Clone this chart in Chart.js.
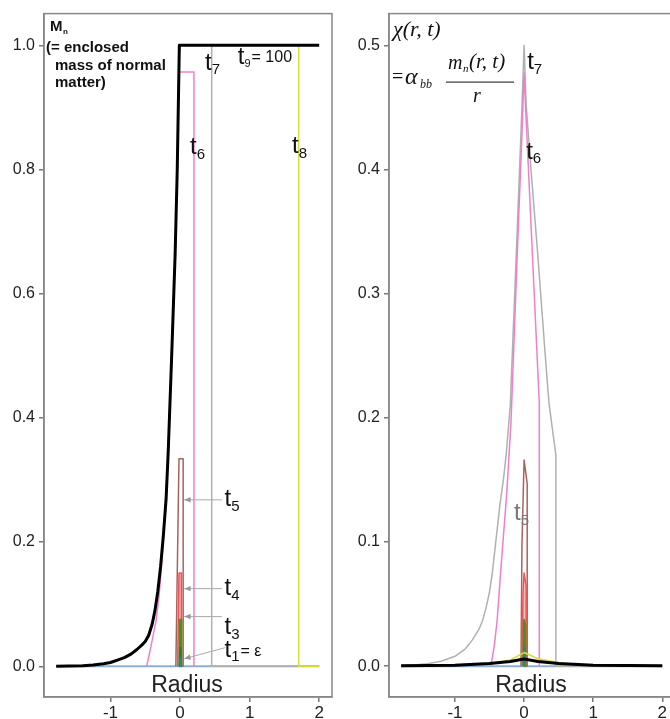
<!DOCTYPE html>
<html>
<head>
<meta charset="utf-8">
<script src="https://cdn.jsdelivr.net/npm/chart.js@4.4.0/dist/chart.umd.min.js"></script>
<style>
  body { margin: 0; background: #fff; width: 670px; height: 719px; overflow: hidden; position: relative; }
  canvas { position: absolute; top: 0; }
  #left { left: 0; }
  #right { left: 335px; }
</style>
</head>
<body>
<canvas id="left" width="340" height="719"></canvas>
<canvas id="right" width="345" height="719"></canvas>
<script>
// ticks
const xTicks = [-1, 0, 1, 2];
const massTicks = [0, 0.2, 0.4, 0.6, 0.8, 1.0];
const chiTicks = [0, 0.1, 0.2, 0.3, 0.4, 0.5];

// ---- left panel: enclosed mass M_n ----
// common rise shared by t7, t8, t9
const riseX = [-1.78, -1.6, -1.4, -1.25, -1.1, -1.0, -0.9, -0.8, -0.7, -0.62, -0.55, -0.5, -0.45, -0.4, -0.36, -0.32, -0.28, -0.24, -0.2, -0.17, -0.12, -0.07, -0.04, -0.01];
const riseY = [0, 0.0005, 0.001, 0.002, 0.004, 0.006, 0.01, 0.014, 0.02, 0.027, 0.034, 0.04, 0.05, 0.068, 0.09, 0.12, 0.16, 0.21, 0.27, 0.345, 0.5, 0.665, 0.8, 1.0];
const m9X = riseX.concat([2.0]);
const m9Y = riseY.concat([1.0]);
const m8X = riseX.concat([1.705, 1.705, 2.0]);
const m8Y = riseY.concat([1.0, 0, 0]);
const m7X = riseX.concat([0.455, 0.455, 2.0]);
const m7Y = riseY.concat([1.0, 0, 0]);
const m6X = [-0.48, -0.44, -0.4, -0.345, -0.3, -0.26, -0.22, -0.17, -0.12, -0.07, -0.01, 0.2, 0.2];
const m6Y = [0, 0.02, 0.042, 0.073, 0.115, 0.17, 0.24, 0.345, 0.5, 0.665, 0.957, 0.957, 0];
const m5X = [-0.06, -0.015, 0.045, 0.045];
const m5Y = [0, 0.334, 0.334, 0];
const m4X = [-0.035, -0.015, 0.02, 0.02];
const m4Y = [0, 0.15, 0.15, 0];
const m3X = [-0.012, -0.005, 0.02, 0.02];
const m3Y = [0, 0.075, 0.075, 0];
const m2X = [-0.01, 0, 0.012];
const m2Y = [0, 0.03, 0];
const m1X = [-0.008, 0, 0.008];
const m1Y = [0, 0.012, 0];
const baseX = [-1.78, 2.0];
const baseY = [0, 0];

// ---- right panel: chi(r,t) ----
const c9X = [-1.78, -1.0, -0.5, -0.2, 0, 0.2, 0.5, 1.0, 2.0];
const c9Y = [0.0003, 0.0008, 0.0022, 0.0038, 0.0058, 0.0038, 0.0022, 0.0008, 0.0003];
const c8X = [-1.78, -0.5, -0.2, 0, 0.2, 0.6, 1.0, 1.7, 1.7, 2.0];
const c8Y = [0, 0.002, 0.005, 0.011, 0.006, 0.002, 0.001, 0.0005, 0, 0];
const c7X = [-1.78, -1.6, -1.4, -1.2, -1.0, -0.85, -0.75, -0.65, -0.6, -0.55, -0.5, -0.46, -0.43, -0.39, -0.35, -0.3, -0.26, -0.2, -0.1, -0.03, 0, 0.03, 0.1, 0.2, 0.3, 0.36, 0.46, 0.46, 2.0];
const c7Y = [0.0005, 0.001, 0.002, 0.004, 0.008, 0.014, 0.021, 0.03, 0.037, 0.047, 0.06, 0.075, 0.09, 0.11, 0.13, 0.15, 0.17, 0.21, 0.35, 0.452, 0.5, 0.452, 0.40, 0.33, 0.255, 0.212, 0.17, 0, 0];
const c6X = [-0.48, -0.43, -0.39, -0.32, -0.25, -0.19, -0.1, -0.03, 0, 0.03, 0.1, 0.17, 0.22, 0.22];
const c6Y = [0, 0.017, 0.037, 0.09, 0.14, 0.196, 0.33, 0.43, 0.478, 0.44, 0.356, 0.272, 0.212, 0];
const c5X = [-0.045, -0.03, 0, 0.045, 0.045];
const c5Y = [0, 0.1, 0.166, 0.147, 0];
const c4X = [-0.03, -0.015, 0, 0.03, 0.03];
const c4Y = [0, 0.06, 0.075, 0.065, 0];
const c3X = [-0.012, 0, 0.018, 0.018];
const c3Y = [0, 0.0375, 0.033, 0];
const c2X = [-0.01, 0, 0.012];
const c2Y = [0, 0.015, 0];

const xMin = -1.955, xMax = 2.184;
const SANS = '"Liberation Sans", Arial, sans-serif';
const SERIF = '"Liberation Serif", "Times New Roman", serif';

function line(xs, ys, color, width, extra) {
    return Object.assign({
        data: xs.map((x, i) => ({ x: x, y: ys[i] })),
        showLine: true, pointRadius: 0, tension: 0, fill: false,
        borderColor: color, borderWidth: width, borderJoinStyle: 'round'
    }, extra || {});
}

// label "t" with subscript, positioned in data units
function drawT(chart, lab) {
    const ctx = chart.ctx;
    const px = chart.scales.x.getPixelForValue(lab.x);
    const py = chart.scales.y.getPixelForValue(lab.y);
    ctx.fillStyle = lab.color || '#111';
    ctx.textBaseline = 'middle';
    ctx.textAlign = 'left';
    ctx.font = '24px ' + SANS;
    ctx.fillText('t', px, py);
    let w = ctx.measureText('t').width;
    ctx.font = (lab.subSize || 15) + 'px ' + SANS;
    ctx.fillText(lab.sub, px + w, py + 7);
    w += ctx.measureText(lab.sub).width;
    if (lab.after) {
        ctx.font = '16px ' + SANS;
        ctx.fillText(lab.after, px + w + 1, py + 1);
    }
}

function drawArrow(chart, a) {
    const ctx = chart.ctx;
    const x1 = chart.scales.x.getPixelForValue(a[0]), y1 = chart.scales.y.getPixelForValue(a[1]);
    const x2 = chart.scales.x.getPixelForValue(a[2]), y2 = chart.scales.y.getPixelForValue(a[3]);
    const ang = Math.atan2(y2 - y1, x2 - x1);
    ctx.strokeStyle = '#aaa';
    ctx.fillStyle = '#999';
    ctx.lineWidth = 1;
    ctx.beginPath(); ctx.moveTo(x1, y1); ctx.lineTo(x2, y2); ctx.stroke();
    ctx.beginPath();
    ctx.moveTo(x2, y2);
    ctx.lineTo(x2 - 7 * Math.cos(ang - 0.4), y2 - 7 * Math.sin(ang - 0.4));
    ctx.lineTo(x2 - 7 * Math.cos(ang + 0.4), y2 - 7 * Math.sin(ang + 0.4));
    ctx.closePath(); ctx.fill();
}

function drawRadius(chart) {
    const ctx = chart.ctx;
    ctx.fillStyle = '#222';
    ctx.font = '23px ' + SANS;
    ctx.textAlign = 'center';
    ctx.textBaseline = 'middle';
    ctx.fillText('Radius', chart.scales.x.getPixelForValue(0.1), chart.chartArea.bottom - 11);
}

const leftLabels = [
    { x: 0.36, y: 0.971, sub: '7' },
    { x: 0.83, y: 0.981, sub: '9', subSize: 11, after: '= 100' },
    { x: 0.145, y: 0.835, sub: '6' },
    { x: 1.61, y: 0.837, sub: '8' },
    { x: 0.64, y: 0.268, sub: '5' },
    { x: 0.64, y: 0.125, sub: '4' },
    { x: 0.64, y: 0.062, sub: '3' },
    { x: 0.64, y: 0.026, sub: '1', after: '= ε' }
];
const leftArrows = [
    [0.6, 0.268, 0.06, 0.268],
    [0.6, 0.125, 0.06, 0.125],
    [0.6, 0.08, 0.06, 0.08],
    [0.65, 0.03, 0.06, 0.012]
];
const rightLabels = [
    { x: 0.045, y: 0.486, sub: '7' },
    { x: 0.03, y: 0.414, sub: '6' },
    { x: -0.145, y: 0.123, sub: '5', color: '#777' }
];

const framePlugin = {
    id: 'frame',
    afterDraw(chart) {
        const { ctx, chartArea: a } = chart;
        ctx.save();
        ctx.strokeStyle = '#888';
        ctx.lineWidth = 1.5;
        ctx.strokeRect(a.left, a.top, a.right - a.left, a.bottom - a.top);
        ctx.restore();
    }
};

const leftNotes = {
    id: 'leftNotes',
    afterDatasetsDraw(chart) {
        const ctx = chart.ctx, a = chart.chartArea;
        ctx.save();
        leftArrows.forEach(ar => drawArrow(chart, ar));
        leftLabels.forEach(l => drawT(chart, l));
        drawRadius(chart);
        // title
        ctx.fillStyle = '#111';
        ctx.textAlign = 'left';
        ctx.textBaseline = 'middle';
        ctx.font = 'bold 15px ' + SANS;
        ctx.fillText('M', a.left + 6, a.top + 13);
        ctx.font = 'bold 8px ' + SANS;
        ctx.fillText('n', a.left + 19, a.top + 18);
        ctx.font = 'bold 15px ' + SANS;
        ctx.fillText('(= enclosed', a.left + 2, a.top + 34);
        ctx.fillText('mass of normal', a.left + 11, a.top + 52);
        ctx.fillText('matter)', a.left + 11, a.top + 69);
        ctx.restore();
    }
};

const rightNotes = {
    id: 'rightNotes',
    afterDatasetsDraw(chart) {
        const ctx = chart.ctx, a = chart.chartArea;
        ctx.save();
        rightLabels.forEach(l => drawT(chart, l));
        drawRadius(chart);
        ctx.fillStyle = '#111';
        ctx.strokeStyle = '#111';
        ctx.textAlign = 'left';
        ctx.textBaseline = 'middle';
        ctx.font = 'italic 22px ' + SERIF;
        ctx.fillText('χ(r, t)', a.left + 4, a.top + 17);
        ctx.font = '20px ' + SERIF;
        ctx.fillText('=', a.left + 3, a.top + 64);
        ctx.font = 'italic 24px ' + SERIF;
        ctx.fillText('α', a.left + 16, a.top + 64);
        ctx.font = 'italic 12px ' + SERIF;
        ctx.fillText('bb', a.left + 31, a.top + 71);
        ctx.font = 'italic 20px ' + SERIF;
        ctx.fillText('m', a.left + 59, a.top + 50);
        ctx.font = 'italic 11px ' + SERIF;
        ctx.fillText('n', a.left + 74, a.top + 56);
        ctx.font = 'italic 21px ' + SERIF;
        ctx.fillText('(r, t)', a.left + 80, a.top + 49);
        ctx.lineWidth = 1;
        ctx.beginPath();
        ctx.moveTo(a.left + 57, a.top + 68.5);
        ctx.lineTo(a.left + 125, a.top + 68.5);
        ctx.stroke();
        ctx.font = 'italic 20px ' + SERIF;
        ctx.fillText('r', a.left + 84, a.top + 83);
        ctx.restore();
    }
};

function makeChart(id, datasets, yMin, yMax, yTicks, yWidth, padRight, notes) {
    return new Chart(document.getElementById(id), {
        type: 'scatter',
        data: { datasets: datasets },
        options: {
            responsive: false,
            animation: false,
            devicePixelRatio: 1,
            layout: { padding: { top: 8, right: padRight, left: 0, bottom: 0 } },
            plugins: { legend: { display: false }, tooltip: { enabled: false } },
            scales: {
                x: {
                    type: 'linear', min: xMin, max: xMax,
                    afterBuildTicks: s => { s.ticks = xTicks.map(v => ({ value: v })); },
                    afterFit: s => { s.height = 22; },
                    ticks: { callback: v => String(v), font: { size: 17, family: SANS }, color: '#222', padding: 1, maxRotation: 0, autoSkip: false },
                    grid: { drawOnChartArea: false, tickLength: 5, color: '#777', lineWidth: 1.5 },
                    border: { color: '#888', width: 1.5 }
                },
                y: {
                    type: 'linear', min: yMin, max: yMax,
                    afterBuildTicks: s => { s.ticks = yTicks.map(v => ({ value: v })); },
                    afterFit: s => { s.width = yWidth; },
                    ticks: { callback: v => v.toFixed(1), font: { size: 16, family: SANS }, color: '#222', padding: 4, autoSkip: false },
                    grid: { drawOnChartArea: false, tickLength: 5, color: '#777', lineWidth: 1.5 },
                    border: { color: '#888', width: 1.5 }
                }
            }
        },
        plugins: [framePlugin, notes]
    });
}

const PINK = '#ee7fcf', GREY = '#b0b0b0', YELLOW = '#d6de3c', BROWN = '#a8625e', RED = '#ec5656', GREEN = '#4f8f1a';

makeChart('left', [
    line(m9X, m9Y, '#000', 3),
    line(m8X, m8Y, YELLOW, 1.5),
    line(m7X, m7Y, GREY, 1.5),
    line(m6X, m6Y, PINK, 1.5),
    line(m1X, m1Y, '#1f8f7a', 1.5),
    line(m2X, m2Y, '#2e7d32', 1.5),
    line(m3X, m3Y, GREEN, 2, { fill: 'origin', backgroundColor: 'rgba(90,140,30,0.6)' }),
    line(m4X, m4Y, RED, 1.5, { fill: 'origin', backgroundColor: 'rgba(245,140,140,0.6)' }),
    line(m5X, m5Y, BROWN, 1.5),
    line(baseX, baseY, '#8ab0d8', 2)
], -0.0495, 1.051, massTicks, 44, 8, leftNotes);

makeChart('right', [
    line(c9X, c9Y, '#000', 3),
    line(c8X, c8Y, YELLOW, 1.5),
    line(c2X, c2Y, '#1f8f7a', 1.5),
    line(c3X, c3Y, GREEN, 2, { fill: 'origin', backgroundColor: 'rgba(90,140,30,0.6)' }),
    line(c4X, c4Y, RED, 1.5, { fill: 'origin', backgroundColor: 'rgba(245,140,140,0.6)' }),
    line(c5X, c5Y, BROWN, 1.5),
    line(c6X, c6Y, PINK, 1.5),
    line(c7X, c7Y, GREY, 1.5),
    line(baseX, baseY, '#8ab0d8', 2)
], -0.0248, 0.5256, chiTicks, 54, 5, rightNotes);
</script>
</body>
</html>
